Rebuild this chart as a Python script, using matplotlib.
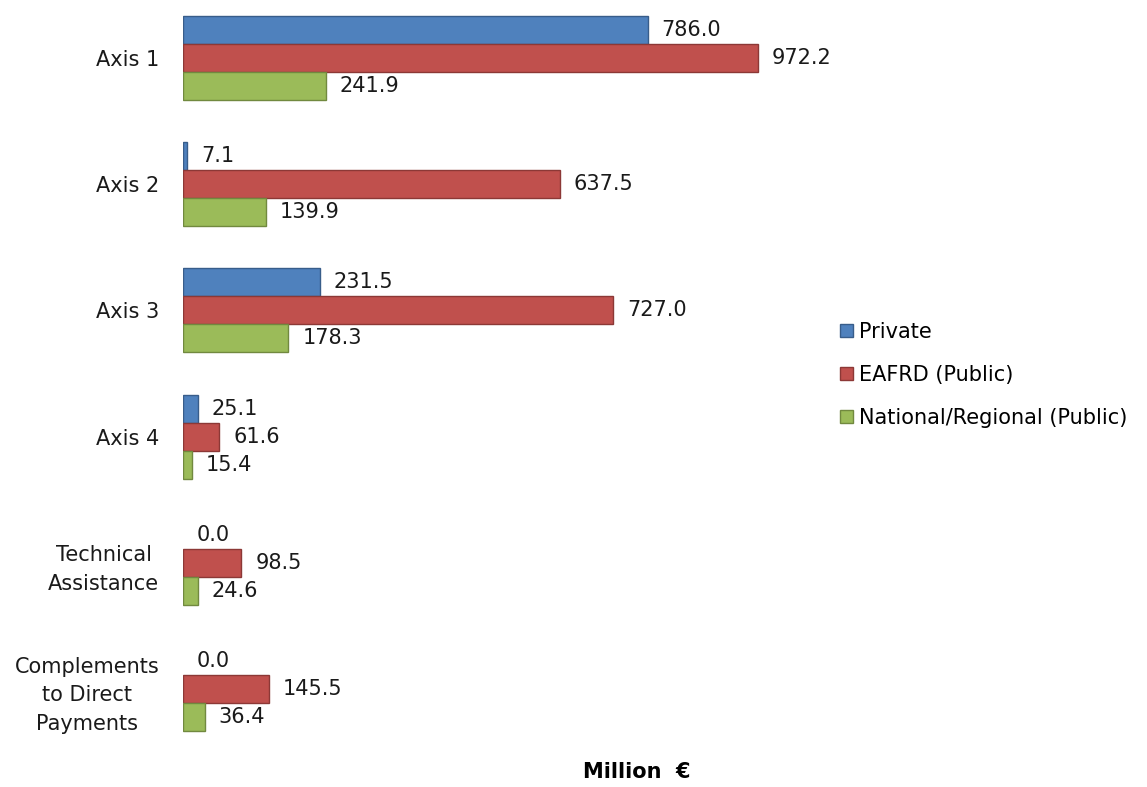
import matplotlib
matplotlib.use("Agg")
import matplotlib.pyplot as plt
import numpy as np

categories = ["Axis 1", "Axis 2", "Axis 3", "Axis 4",
              "Technical\nAssistance", "Complements\nto Direct\nPayments"]
private = [786.0, 7.1, 231.5, 25.1, 0.0, 0.0]
eafrd = [972.2, 637.5, 727.0, 61.6, 98.5, 145.5]
national = [241.9, 139.9, 178.3, 15.4, 24.6, 36.4]

series = [
    ("Private", private, "#4F81BD", "#385D8A"),
    ("EAFRD (Public)", eafrd, "#C0504D", "#8C3836"),
    ("National/Regional (Public)", national, "#9BBB59", "#71893F"),
]

plt.rcParams["font.family"] = ["DejaVu Sans"]
FS = 15

fig = plt.figure(figsize=(11.47, 7.87), dpi=100)
ax = fig.add_axes([183 / 1147, 1 - 745 / 787, 908 / 1147, 735 / 787])

y = np.arange(len(categories))
h = 0.222
for i, (name, vals, face, edge) in enumerate(series):
    bars = ax.barh(y + (i - 1) * h, vals, height=h, color=face,
                   edgecolor=edge, linewidth=1.0, label=name)
    # no outline on empty bars
    for patch, v in zip(bars, vals):
        if v == 0:
            patch.set_linewidth(0)
    ax.bar_label(bars, labels=[f"{v:.1f}" for v in vals], padding=10,
                 fontsize=FS, color="#1a1a1a")

ax.set_xlim(0, 908 / 0.5914)
ax.set_ylim(5.444, -0.380)
ax.set_yticks(y)
ax.set_yticklabels(categories, fontsize=FS, linespacing=1.55,
                   multialignment="center", color="#1a1a1a")
ax.tick_params(axis="y", length=0, pad=17)
ax.set_xticks([])
for s in ax.spines.values():
    s.set_visible(False)

ax.set_xlabel("Million  €", fontsize=FS, fontweight="bold", labelpad=12)

ax.legend(loc="center left", bbox_to_anchor=(840 / 1147, 1 - 375 / 787),
          bbox_transform=fig.transFigure, frameon=False, fontsize=FS,
          handlelength=0.6, handleheight=0.6, handletextpad=0.3,
          labelspacing=1.1, borderpad=0, borderaxespad=0)

fig.savefig("out.png", dpi=100)
